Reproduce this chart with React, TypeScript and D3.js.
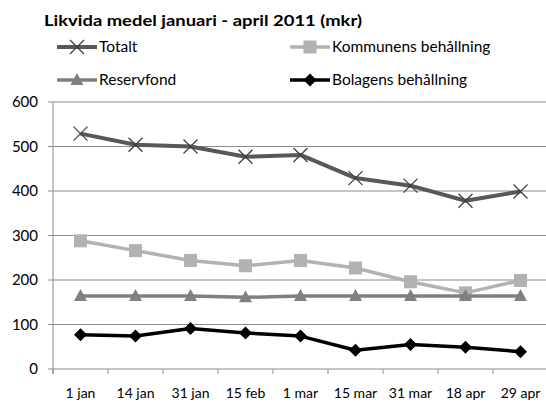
import { useMemo } from "react";
import * as d3 from "d3";

const WIDTH = 546;
const HEIGHT = 405;
const MARGIN = { top: 102, right: 0, bottom: 36, left: 53 };

const categories = ["1 jan", "14 jan", "31 jan", "15 feb", "1 mar", "15 mar", "31 mar", "18 apr", "29 apr"];
const totalt = [529, 504, 500, 477, 481, 429, 412, 378, 399];
const kommunens = [288, 266, 244, 232, 244, 227, 196, 171, 199];
const reservfond = [164, 164, 164, 161, 164, 164, 164, 164, 164];
const bolagens = [77, 74, 91, 81, 74, 42, 55, 49, 39];
const yTicks = [0, 100, 200, 300, 400, 500, 600];

const FONT = "'Lato', 'Open Sans', sans-serif";

type Series = { name: string; values: number[]; color: string; width: number; marker: string };

const series: Series[] = [
    { name: "Totalt", values: totalt, color: "#585858", width: 4, marker: "x" },
    { name: "Kommunens behållning", values: kommunens, color: "#b2b2b2", width: 3.5, marker: "square" },
    { name: "Reservfond", values: reservfond, color: "#808080", width: 3.5, marker: "triangle" },
    { name: "Bolagens behållning", values: bolagens, color: "#000000", width: 3.5, marker: "diamond" },
];

const Marker = ({ kind, x, y, color }: { kind: string; x: number; y: number; color: string }) => {
    if (kind === "x") {
        const s = 7;
        return (
            <path
                d={`M${x - s},${y - s}L${x + s},${y + s}M${x - s},${y + s}L${x + s},${y - s}`}
                stroke="#404040"
                strokeWidth={1.3}
            />
        );
    }
    if (kind === "square") return <rect x={x - 6.5} y={y - 6.5} width={13} height={13} fill={color} />;
    if (kind === "triangle") return <path d={`M${x},${y - 7}L${x + 6.5},${y + 5}L${x - 6.5},${y + 5}Z`} fill={color} />;
    return <path d={`M${x},${y - 6.5}L${x + 6.5},${y}L${x},${y + 6.5}L${x - 6.5},${y}Z`} fill={color} />;
};

const App = () => {
    const boundsWidth = 548 - MARGIN.left;
    const boundsHeight = HEIGHT - MARGIN.top - MARGIN.bottom;

    const xScale = useMemo(
        () => d3.scaleBand().domain(categories).range([0, boundsWidth]),
        [boundsWidth]
    );
    const yScale = useMemo(
        () => d3.scaleLinear().domain([0, 600]).range([boundsHeight, 0]),
        [boundsHeight]
    );
    const cx = (c: string) => (xScale(c) ?? 0) + xScale.bandwidth() / 2;

    const line = d3
        .line<number>()
        .x((_, i) => cx(categories[i]))
        .y((d) => yScale(d));

    const legendPos = [
        { x: 57, y: 47 },
        { x: 290, y: 47 },
        { x: 57, y: 80 },
        { x: 290, y: 80 },
    ];

    return (
        <svg width={WIDTH} height={HEIGHT} style={{ position: "absolute", left: 0, top: 0, background: "white" }}>
            <text
                x={44}
                y={26}
                fontFamily={FONT}
                fontWeight="bold"
                fontSize={15}
                textLength={318}
                lengthAdjust="spacingAndGlyphs"
                fill="#000"
            >
                Likvida medel januari - april 2011 (mkr)
            </text>

            {series.map((s, i) => {
                const p = legendPos[i];
                return (
                    <g key={s.name}>
                        <line x1={p.x} x2={p.x + 40} y1={p.y} y2={p.y} stroke={s.color} strokeWidth={s.width} />
                        <Marker kind={s.marker} x={p.x + 20} y={p.y} color={s.color} />
                        <text x={p.x + 42} y={p.y + 5} fontFamily={FONT} fontSize={15.5} fill="#000">
                            {s.name}
                        </text>
                    </g>
                );
            })}

            <g transform={`translate(${MARGIN.left},${MARGIN.top})`}>
                {yTicks.map((t) => (
                    <g key={t}>
                        <line x1={-5} x2={boundsWidth} y1={yScale(t)} y2={yScale(t)} stroke="#8c8c8c" strokeWidth={1} />
                        <text x={-15} y={yScale(t) + 5} textAnchor="end" fontFamily={FONT} fontSize={15} fill="#000">
                            {t}
                        </text>
                    </g>
                ))}
                <line x1={0} x2={0} y1={0} y2={boundsHeight + 5} stroke="#8c8c8c" />
                {categories.map((c) => (
                    <g key={c}>
                        <line
                            x1={xScale(c) ?? 0}
                            x2={xScale(c) ?? 0}
                            y1={boundsHeight}
                            y2={boundsHeight + 5}
                            stroke="#8c8c8c"
                        />
                        <text
                            x={cx(c)}
                            y={boundsHeight + 29}
                            textAnchor="middle"
                            fontFamily={FONT}
                            fontSize={14}
                            fill="#000"
                        >
                            {c}
                        </text>
                    </g>
                ))}

                {series.map((s) => (
                    <g key={s.name}>
                        <path d={line(s.values) ?? ""} fill="none" stroke={s.color} strokeWidth={s.width} strokeLinejoin="round" />
                        {s.values.map((v, i) => (
                            <Marker key={i} kind={s.marker} x={cx(categories[i])} y={yScale(v)} color={s.color} />
                        ))}
                    </g>
                ))}
            </g>
        </svg>
    );
};

export default App;
